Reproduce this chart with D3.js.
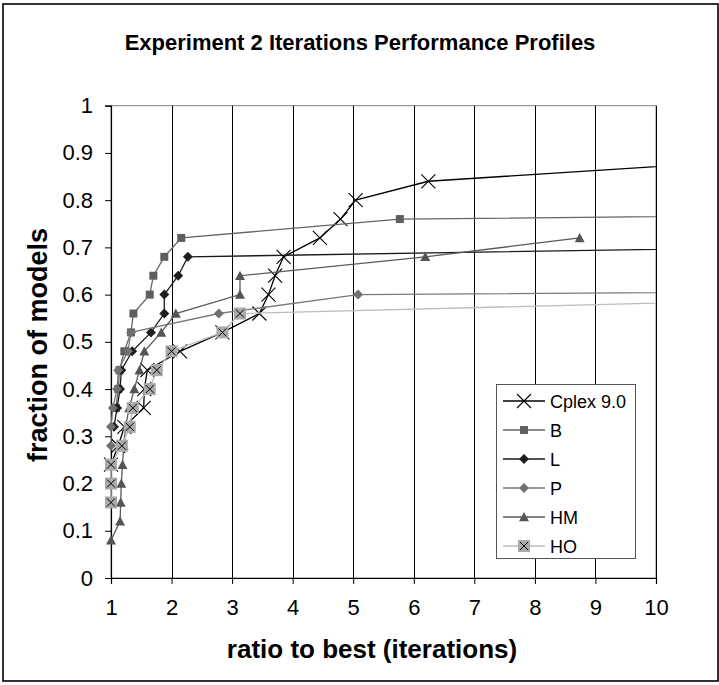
<!DOCTYPE html>
<html>
<head>
<meta charset="utf-8">
<script src="https://cdn.jsdelivr.net/npm/d3@7"></script>
<style>
body { margin: 0; background: #fff; }
text { font-family: "Liberation Sans", Arial, Helvetica, sans-serif; fill: #000; }
</style>
</head>
<body>
<svg id="chart"></svg>
<script>
const width = 719;
const height = 685;

// performance profile data: ratio to best (x) vs fraction of models (y)
const seriesNames = ["Cplex 9.0", "B", "L", "P", "HM", "HO"];
const cplexX = [1, 1.12, 1.22, 1.54, 1.55, 1.6, 2.14, 2.84, 3.45, 3.6, 3.71, 3.85, 4.45, 4.79, 5.04, 6.24, 11.1];
const cplexY = [0.24, 0.28, 0.32, 0.36, 0.40, 0.44, 0.48, 0.52, 0.56, 0.60, 0.64, 0.68, 0.72, 0.76, 0.80, 0.84, 0.88];
const bX = [1.08, 1.12, 1.14, 1.22, 1.33, 1.37, 1.64, 1.70, 1.88, 2.16, 5.77, 40];
const bY = [0.36, 0.40, 0.44, 0.48, 0.52, 0.56, 0.60, 0.64, 0.68, 0.72, 0.76, 0.80];
const lX = [1.05, 1.1, 1.15, 1.17, 1.35, 1.66, 1.88, 1.88, 2.11, 2.27, 21.6];
const lY = [0.32, 0.36, 0.40, 0.44, 0.48, 0.52, 0.56, 0.60, 0.64, 0.68, 0.72];
const pX = [1, 1, 1.03, 1.1, 1.12, 1.28, 1.33, 2.78, 5.08, 50];
const pY = [0.28, 0.32, 0.36, 0.40, 0.44, 0.48, 0.52, 0.56, 0.60, 0.64];
const hmX = [1, 1.15, 1.16, 1.17, 1.19, 1.21, 1.24, 1.30, 1.385, 1.47, 1.55, 1.83, 2.07, 3.13, 3.13, 6.19, 8.74];
const hmY = [0.08, 0.12, 0.16, 0.20, 0.24, 0.28, 0.32, 0.36, 0.40, 0.44, 0.48, 0.52, 0.56, 0.60, 0.64, 0.68, 0.72];
const hoX = [1, 1, 1, 1.18, 1.31, 1.36, 1.64, 1.755, 2.0, 2.84, 3.13, 15.6];
const hoY = [0.16, 0.20, 0.24, 0.28, 0.32, 0.36, 0.40, 0.44, 0.48, 0.52, 0.56, 0.60];
const xTicks = [1, 2, 3, 4, 5, 6, 7, 8, 9, 10];
const yTicks = [0, 0.1, 0.2, 0.3, 0.4, 0.5, 0.6, 0.7, 0.8, 0.9, 1];

const seriesX = [cplexX, bX, lX, pX, hmX, hoX];
const seriesY = [cplexY, bY, lY, pY, hmY, hoY];

const styles = {
    "Cplex 9.0": { line: "#000", marker: "cross", size: 14, fill: "none" },
    "B": { line: "#666", marker: "square", size: 8, fill: "#5f5f5f" },
    "L": { line: "#1a1a1a", marker: "diamond", size: 10, fill: "#1e1e1e" },
    "P": { line: "#7a7a7a", marker: "diamond", size: 10, fill: "#707070" },
    "HM": { line: "#5a5a5a", marker: "triangle", size: 10, fill: "#555" },
    "HO": { line: "#bdbdbd", marker: "boxcross", size: 12, fill: "#aaa" }
};

const plotLeft = 111, plotRight = 656, plotTop = 105.7, plotBottom = 578;
const x = d3.scaleLinear().domain([1, 10]).range([plotLeft, plotRight]);
const y = d3.scaleLinear().domain([0, 1]).range([plotBottom, plotTop]);

const svg = d3.select("#chart")
    .attr("width", width)
    .attr("height", height);

svg.append("rect")
    .attr("x", 3).attr("y", 4)
    .attr("width", 715).attr("height", 677)
    .attr("fill", "#fff")
    .attr("stroke", "#000")
    .attr("stroke-width", 1.6);

svg.append("text")
    .attr("x", 360)
    .attr("y", 50)
    .attr("text-anchor", "middle")
    .attr("font-weight", "bold")
    .attr("font-size", 22)
    .text("Experiment 2 Iterations Performance Profiles");

svg.append("defs").append("clipPath")
    .attr("id", "plotClip")
    .append("rect")
    .attr("x", plotLeft).attr("y", plotTop)
    .attr("width", plotRight - plotLeft).attr("height", plotBottom - plotTop);

// plot frame + vertical gridlines
svg.append("rect")
    .attr("x", plotLeft).attr("y", plotTop)
    .attr("width", plotRight - plotLeft).attr("height", plotBottom - plotTop)
    .attr("fill", "none")
    .attr("stroke", "#808080");

svg.selectAll("grid").data(xTicks.slice(1)).enter()
    .append("line")
    .attr("x1", d => Math.round(x(d)) + 0.5)
    .attr("x2", d => Math.round(x(d)) + 0.5)
    .attr("y1", plotTop)
    .attr("y2", plotBottom)
    .attr("stroke", "#000");

const xAxis = svg.append("g")
    .attr("transform", "translate(0," + plotBottom + ")")
    .call(d3.axisBottom(x).tickValues(xTicks).tickSize(6).tickPadding(15).tickFormat(d3.format("d")));
const yAxis = svg.append("g")
    .attr("transform", "translate(" + plotLeft + ",0)")
    .call(d3.axisLeft(y).tickValues(yTicks).tickSize(6).tickPadding(12).tickFormat(d => d3.format("")(+d.toFixed(1))));

[xAxis, yAxis].forEach(a => {
    a.select(".domain").attr("stroke", "#000").attr("stroke-width", 1.2);
    a.selectAll("line").attr("stroke", "#000");
    a.selectAll("text")
        .attr("font-size", 22)
        .attr("font-family", "'Liberation Sans', Arial, sans-serif")
        .attr("fill", "#000");
});

svg.append("text")
    .attr("x", 372)
    .attr("y", 658)
    .attr("text-anchor", "middle")
    .attr("font-weight", "bold")
    .attr("font-size", 26)
    .text("ratio to best (iterations)");

svg.append("text")
    .attr("transform", "translate(47,345) rotate(-90)")
    .attr("text-anchor", "middle")
    .attr("font-weight", "bold")
    .attr("font-size", 27)
    .text("fraction of models");

function markerPath(type, s) {
    const h = s / 2;
    if (type === "square" || type === "boxcross") return `M${-h},${-h}H${h}V${h}H${-h}Z`;
    if (type === "diamond") return `M0,${-h}L${h},0L0,${h}L${-h},0Z`;
    if (type === "triangle") return `M0,${-h}L${h},${h * 0.85}L${-h},${h * 0.85}Z`;
    return `M${-h},${-h}L${h},${h}M${h},${-h}L${-h},${h}`;
}

function drawMarker(g, st, cx, cy) {
    if (st.marker === "cross") {
        g.append("path").attr("d", markerPath("cross", st.size))
            .attr("transform", "translate(" + cx + "," + cy + ")")
            .attr("fill", "none").attr("stroke", "#000").attr("stroke-width", 1.1);
    } else {
        g.append("path").attr("d", markerPath(st.marker, st.size))
            .attr("transform", "translate(" + cx + "," + cy + ")")
            .attr("fill", st.fill);
        if (st.marker === "boxcross") {
            g.append("path").attr("d", markerPath("cross", st.size - 4))
                .attr("transform", "translate(" + cx + "," + cy + ")")
                .attr("fill", "none").attr("stroke", "#000").attr("stroke-width", 1);
        }
    }
}

const line = d3.line().x(d => x(d[0])).y(d => y(d[1]));

seriesNames.forEach((name, i) => {
    const st = styles[name];
    const pts = seriesX[i].map((v, j) => [v, seriesY[i][j]]);
    const g = svg.append("g");
    g.append("path")
        .datum(pts)
        .attr("d", line)
        .attr("clip-path", "url(#plotClip)")
        .attr("fill", "none")
        .attr("stroke", st.line)
        .attr("stroke-width", 1.3);
    pts.filter(p => p[0] <= 10).forEach(p => drawMarker(g, st, x(p[0]), y(p[1])));
});

// legend
const legend = svg.append("g");
legend.append("rect")
    .attr("x", 496.5).attr("y", 384.5)
    .attr("width", 139).attr("height", 174)
    .attr("fill", "#fff")
    .attr("stroke", "#555");

seriesNames.forEach((name, i) => {
    const st = styles[name];
    const ly = 401 + i * 29;
    legend.append("line")
        .attr("x1", 503).attr("x2", 545)
        .attr("y1", ly).attr("y2", ly)
        .attr("stroke", st.line)
        .attr("stroke-width", 1.3);
    drawMarker(legend, st, 524, ly);
    legend.append("text")
        .attr("x", 550)
        .attr("y", ly + 6.5)
        .attr("font-size", 18)
        .text(name);
});
</script>
</body>
</html>
